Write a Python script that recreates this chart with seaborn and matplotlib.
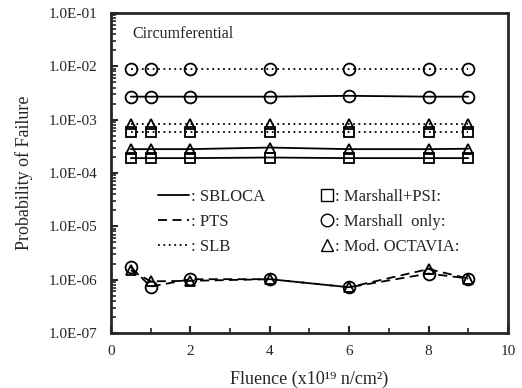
import matplotlib
matplotlib.use('Agg')
import matplotlib.pyplot as plt
import matplotlib.ticker as mticker
from matplotlib.lines import Line2D
import seaborn as sns
import pandas as pd
import numpy as np

# Fluence points (x10^19 n/cm^2)
fluence = [0.5, 1, 2, 4, 6, 8, 9]

# Probability of failure
sbloca_psi = [1.9e-4, 1.9e-4, 1.9e-4, 1.95e-4, 1.9e-4, 1.9e-4, 1.9e-4]
sbloca_marshall = [2.7e-3, 2.7e-3, 2.7e-3, 2.7e-3, 2.8e-3, 2.7e-3, 2.7e-3]
sbloca_octavia = [2.8e-4, 2.8e-4, 2.8e-4, 3.0e-4, 2.8e-4, 2.8e-4, 2.85e-4]
slb_psi = [5.9e-4, 5.9e-4, 5.9e-4, 5.9e-4, 5.9e-4, 5.9e-4, 5.9e-4]
slb_marshall = [8.9e-3, 8.9e-3, 8.9e-3, 8.9e-3, 8.9e-3, 8.9e-3, 8.9e-3]
slb_octavia = [8.2e-4, 8.2e-4, 8.2e-4, 8.2e-4, 8.2e-4, 8.2e-4, 8.2e-4]
pts_marshall = [1.72e-6, 7.4e-7, 1.02e-6, 1.02e-6, 7.2e-7, 1.3e-6, 1.05e-6]
pts_octavia = [1.5e-6, 9.3e-7, 9.5e-7, 1.02e-6, 7.2e-7, 1.58e-6, 1.05e-6]

y_ticks = [1e-7, 1e-6, 1e-5, 1e-4, 1e-3, 1e-2, 1e-1]
y_ticklabels = ['1.0E-07', '1.0E-06', '1.0E-05', '1.0E-04', '1.0E-03', '1.0E-02', '1.0E-01']

series = [
    ('SBLOCA', 'Marshall+PSI', sbloca_psi),
    ('SBLOCA', 'Marshall only', sbloca_marshall),
    ('SBLOCA', 'Mod. OCTAVIA', sbloca_octavia),
    ('SLB', 'Marshall+PSI', slb_psi),
    ('SLB', 'Marshall only', slb_marshall),
    ('SLB', 'Mod. OCTAVIA', slb_octavia),
    ('PTS', 'Marshall only', pts_marshall),
    ('PTS', 'Mod. OCTAVIA', pts_octavia),
]
df = pd.concat([pd.DataFrame({'fluence': fluence, 'pof': v, 'case': c, 'model': m})
                for c, m, v in series], ignore_index=True)

line_styles = {'SBLOCA': '-', 'PTS': (0, (5, 3)), 'SLB': (0, (1, 2))}
markers = {'Marshall+PSI': 's', 'Marshall only': 'o', 'Mod. OCTAVIA': '^'}
msizes = {'Marshall+PSI': 7.5, 'Marshall only': 8.5, 'Mod. OCTAVIA': 7.5}

sns.set_style('ticks')
plt.rcParams['font.family'] = ['Liberation Serif', 'DejaVu Serif']

fig = plt.figure(figsize=(5.22, 3.88), dpi=100)
ax = fig.add_axes([0.2126, 0.1418, 0.7604, 0.8247])

for (c, m), d in df.groupby(['case', 'model']):
    sns.lineplot(data=d, x='fluence', y='pof', ax=ax, color='black', lw=1.3,
                 linestyle=line_styles[c], marker=markers[m], markersize=msizes[m],
                 markerfacecolor='none', markeredgecolor='black', markeredgewidth=1.3)

ax.set_yscale('log')
ax.set_ylim(1e-7, 1e-1)
ax.set_xlim(0, 10)
ax.xaxis.set_major_locator(mticker.MultipleLocator(2))
ax.xaxis.set_minor_locator(mticker.MultipleLocator(1))
ax.yaxis.set_major_locator(mticker.FixedLocator(y_ticks))
ax.yaxis.set_major_formatter(mticker.FixedFormatter(y_ticklabels))
ax.yaxis.set_minor_formatter(mticker.NullFormatter())
ax.tick_params(which='both', direction='in', top=False, right=False, labelsize=11)
ax.tick_params(axis='y', which='major', pad=10)
ax.tick_params(axis='x', which='major', pad=9)
ax.tick_params(which='major', length=5, width=1.5)
ax.tick_params(which='minor', length=3.5, width=1.2)
for s in ax.spines.values():
    s.set_linewidth(2)

ax.set_xlabel('Fluence (x10\u00b9\u2079 n/cm\u00b2)', fontsize=13)
ax.xaxis.set_label_coords(0.5, -0.118)
ax.set_ylabel('Probability of Failure', fontsize=13)
ax.yaxis.set_label_coords(-0.196, 0.5)
ax.text(0.055, 0.935, 'Circumferential', transform=ax.transAxes, fontsize=11.5, va='center')

line_handles = [Line2D([], [], color='black', lw=1.3, linestyle=line_styles[k]) for k in ['SBLOCA', 'PTS', 'SLB']]
leg1 = ax.legend(line_handles, [': SBLOCA', ': PTS', ': SLB'], loc='upper left',
                 bbox_to_anchor=(0.08, 0.498), frameon=False, fontsize=12,
                 handlelength=1.9, handletextpad=0.1, labelspacing=0.55)
ax.add_artist(leg1)
marker_handles = [Line2D([], [], color='black', lw=0, marker=markers[k], markersize=9,
                         markerfacecolor='none', markeredgewidth=1) for k in ['Marshall+PSI', 'Marshall only', 'Mod. OCTAVIA']]
ax.legend(marker_handles, [': Marshall+PSI:', ': Marshall  only:', ': Mod. OCTAVIA:'], loc='upper left',
          bbox_to_anchor=(0.49, 0.498), frameon=False, fontsize=12,
          handlelength=0.8, handletextpad=0.1, labelspacing=0.55)

fig.savefig('out.png', dpi=100)
